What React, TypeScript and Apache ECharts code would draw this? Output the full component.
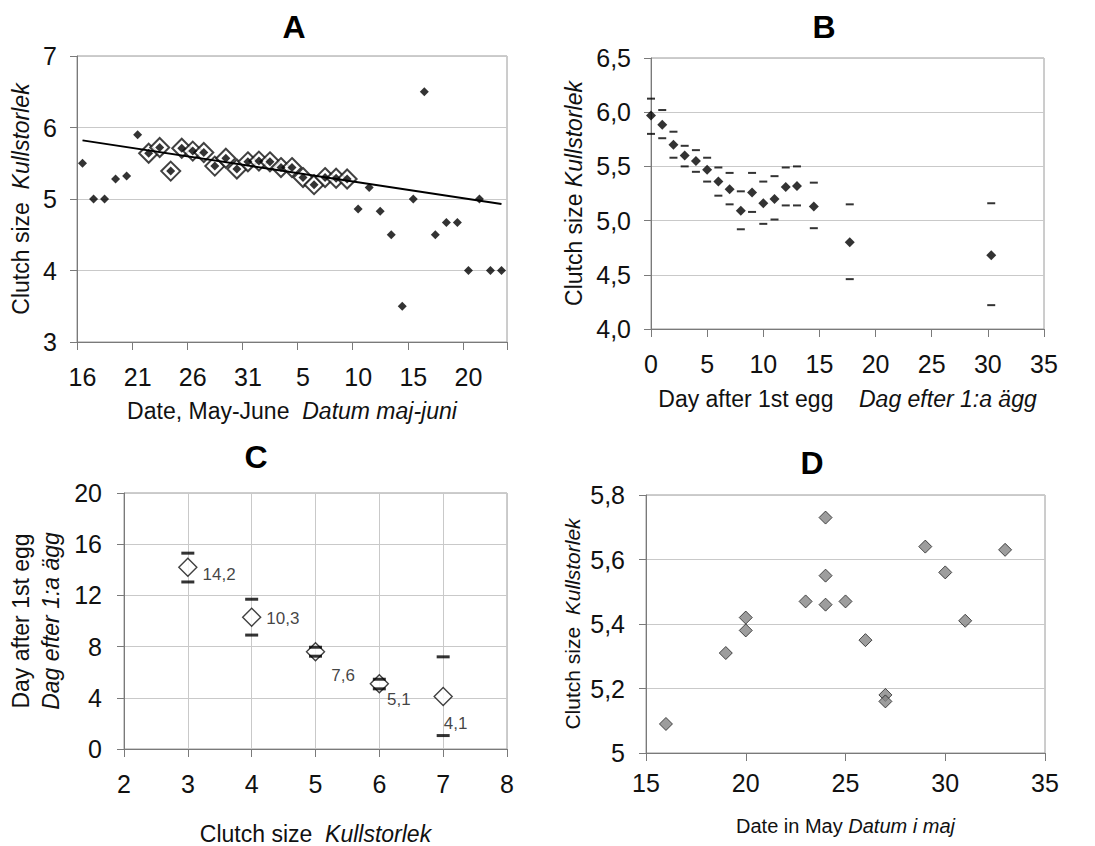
import React, { useEffect, useRef } from "react";
import * as echarts from "echarts";

const FONT = "'Liberation Sans', Arial, Helvetica, sans-serif";

// ---------- Panel A: clutch size by laying date ----------
const aDays = [
  "May 16", "May 17", "May 18", "May 19", "May 20", "May 21", "May 22", "May 23",
  "May 24", "May 25", "May 26", "May 27", "May 28", "May 29", "May 30", "May 31",
  "Jun 1", "Jun 2", "Jun 3", "Jun 4", "Jun 5", "Jun 6", "Jun 7", "Jun 8", "Jun 9",
  "Jun 10", "Jun 11", "Jun 12", "Jun 13", "Jun 14", "Jun 15", "Jun 16", "Jun 17",
  "Jun 18", "Jun 19", "Jun 20", "Jun 21", "Jun 22", "Jun 23",
];
const aClutch = [
  5.5, 5.0, 5.0, 5.28, 5.32, 5.9, 5.64, 5.72, 5.39, 5.71, 5.67, 5.65, 5.46, 5.57, 5.42, 5.52,
  5.53, 5.52, 5.44, 5.44, 5.3, 5.2, 5.3, 5.29, 5.28, 4.86, 5.16, 4.83, 4.5, 3.5, 5.0, 6.5,
  4.5, 4.67, 4.67, 4.0, 5.0, 4.0, 4.0,
];
const aRingedFrom = "May 22";
const aRingedTo = "Jun 9";
const aTrend = [5.82, 4.93]; // regression line value at first and last date
const aYTicks = [3, 7, 1]; // min, max, step

// ---------- Panel B: clutch size by day after first egg ----------
const bDay = [0, 1, 2, 3, 4, 5, 6, 7, 8, 9, 10, 11, 12, 13, 14.5, 17.7, 30.3];
const bMean = [5.97, 5.885, 5.7, 5.6, 5.55, 5.47, 5.36, 5.29, 5.09, 5.26, 5.16, 5.2, 5.31, 5.32, 5.13, 4.8, 4.68];
const bUpper = [6.125, 6.02, 5.82, 5.69, 5.65, 5.58, 5.49, 5.44, 5.27, 5.44, 5.36, 5.41, 5.49, 5.5, 5.35, 5.15, 5.16];
const bLower = [5.8, 5.76, 5.58, 5.5, 5.45, 5.36, 5.23, 5.15, 4.92, 5.08, 4.97, 5.01, 5.14, 5.14, 4.93, 4.46, 4.22];

// ---------- Panel C: day after first egg by clutch size ----------
const cSize = [3, 4, 5, 6, 7];
const cMean = [14.2, 10.3, 7.6, 5.1, 4.1];
const cUpper = [15.3, 11.7, 7.95, 5.45, 7.2];
const cLower = [13.05, 8.9, 7.25, 4.7, 1.05];
const cLabelOffset = [[0, 7], [0, 1], [1, 24], [-7, 16], [-14, 27]];

// ---------- Panel D: mean clutch size by date in May ----------
const dDate = [16, 19, 20, 20, 23, 24, 24, 24, 25, 26, 27, 27, 29, 30, 31, 33];
const dClutch = [5.09, 5.31, 5.42, 5.38, 5.47, 5.73, 5.55, 5.46, 5.47, 5.35, 5.18, 5.16, 5.64, 5.56, 5.41, 5.63];

const comma = (v: number) => String(Number(v.toFixed(2))).replace(".", ",");
const comma1 = (v: number) => v.toFixed(1).replace(".", ",");

const AXIS_COLOR = "#7a7a7a";
const SPLIT_COLOR = "#c9c9c9";
const TXT = "#111";

function nameStyle(size: number) {
  return {
    fontSize: size,
    fontFamily: FONT,
    color: TXT,
    rich: {
      i: { fontSize: size, fontFamily: FONT, fontStyle: "italic", color: TXT },
    },
  };
}

function valueAxis(extra: any) {
  return {
    type: "value",
    axisLine: { show: true, lineStyle: { color: AXIS_COLOR, width: 1 } },
    axisTick: { show: true, length: 7, lineStyle: { color: AXIS_COLOR } },
    splitLine: { show: false, lineStyle: { color: SPLIT_COLOR, width: 1 } },
    axisLabel: { fontSize: 25, fontFamily: FONT, color: TXT, margin: 20 },
    ...extra,
  };
}

function titleText(text: string, x: number, y: number) {
  return {
    type: "text",
    x,
    y,
    style: { text, font: `bold 32px ${FONT}`, fill: "#000", align: "center", verticalAlign: "middle" },
  };
}

export default function App() {
  const ref = useRef<HTMLDivElement>(null);

  useEffect(() => {
    document.body.style.margin = "0";
    if (!ref.current) return;
    const chart = echarts.init(ref.current, null, { renderer: "svg" });

    const iFrom = aDays.indexOf(aRingedFrom);
    const iTo = aDays.indexOf(aRingedTo);
    const ringed = aClutch.map((v, i) => (i >= iFrom && i <= iTo ? v : "-"));

    const option: any = {
      animation: false,
      backgroundColor: "#fff",
      graphic: [
        titleText("A", 294, 27),
        titleText("B", 824, 27),
        titleText("C", 256, 457),
        titleText("D", 812, 463),
      ],
      grid: [
        { left: 77, top: 56, width: 430, height: 286, show: true, borderColor: "#9a9a9a", borderWidth: 1, backgroundColor: "transparent" },
        { left: 651, top: 58, width: 393, height: 271, show: true, borderColor: "#9a9a9a", borderWidth: 1, backgroundColor: "transparent" },
        { left: 124, top: 493, width: 383, height: 268, show: true, borderColor: "#9a9a9a", borderWidth: 1, backgroundColor: "transparent" },
        { left: 646, top: 495, width: 399, height: 258, show: true, borderColor: "#9a9a9a", borderWidth: 1, backgroundColor: "transparent" },
      ],
      xAxis: [
        {
          type: "category",
          gridIndex: 0,
          data: aDays,
          boundaryGap: true,
          axisLine: { show: true, lineStyle: { color: AXIS_COLOR } },
          axisTick: { show: true, interval: 4, length: 8, lineStyle: { color: AXIS_COLOR } },
          axisLabel: {
            interval: 4,
            fontSize: 25,
            fontFamily: FONT,
            color: TXT,
            margin: 22,
            formatter: (v: string) => v.split(" ")[1],
          },
          splitLine: { show: false },
          name: "Date, May-June  {i|Datum maj-juni}",
          nameLocation: "middle",
          nameGap: 57,
          nameTextStyle: nameStyle(23),
        },
        valueAxis({
          gridIndex: 1,
          min: 0,
          max: 35,
          interval: 5,
          axisTick: { show: true, length: 8, lineStyle: { color: AXIS_COLOR } },
          axisLabel: { fontSize: 25, fontFamily: FONT, color: TXT, margin: 22 },
          name: "Day after 1st egg    {i|Dag efter 1:a ägg}",
          nameLocation: "middle",
          nameGap: 58,
          nameTextStyle: nameStyle(23),
        }),
        valueAxis({
          gridIndex: 2,
          min: 2,
          max: 8,
          interval: 1,
          splitLine: { show: true, lineStyle: { color: SPLIT_COLOR } },
          axisTick: { show: true, length: 8, lineStyle: { color: AXIS_COLOR } },
          axisLabel: { fontSize: 25, fontFamily: FONT, color: TXT, margin: 22 },
          name: "Clutch size  {i|Kullstorlek}",
          nameLocation: "middle",
          nameGap: 73,
          nameTextStyle: nameStyle(23),
        }),
        valueAxis({
          gridIndex: 3,
          min: 15,
          max: 35,
          interval: 5,
          axisTick: { show: true, length: 8, lineStyle: { color: AXIS_COLOR } },
          axisLabel: { fontSize: 25, fontFamily: FONT, color: TXT, margin: 17 },
          name: "Date in May {i|Datum i maj}",
          nameLocation: "middle",
          nameGap: 63,
          nameTextStyle: nameStyle(20),
        }),
      ],
      yAxis: [
        valueAxis({
          gridIndex: 0,
          min: aYTicks[0],
          max: aYTicks[1],
          interval: aYTicks[2],
          splitLine: { show: true, lineStyle: { color: SPLIT_COLOR } },
          name: "Clutch size  {i|Kullstorlek}",
          nameLocation: "middle",
          nameRotate: 90,
          nameGap: 45,
          nameTextStyle: nameStyle(23),
        }),
        valueAxis({
          gridIndex: 1,
          min: 4,
          max: 6.5,
          interval: 0.5,
          splitLine: { show: true, lineStyle: { color: SPLIT_COLOR } },
          axisLabel: { fontSize: 25, fontFamily: FONT, color: TXT, margin: 20, formatter: (v: number) => comma1(v) },
          name: "Clutch size {i|Kullstorlek}",
          nameLocation: "middle",
          nameRotate: 90,
          nameGap: 66,
          nameTextStyle: nameStyle(23),
        }),
        valueAxis({
          gridIndex: 2,
          min: 0,
          max: 20,
          interval: 4,
          splitLine: { show: true, lineStyle: { color: SPLIT_COLOR } },
          axisLabel: { fontSize: 25, fontFamily: FONT, color: TXT, margin: 22 },
          name: "Day after 1st egg\n{i|Dag efter 1:a ägg}",
          nameLocation: "middle",
          nameRotate: 90,
          nameGap: 58,
          nameTextStyle: { ...nameStyle(23), lineHeight: 30, rich: { i: { fontSize: 23, fontFamily: FONT, fontStyle: "italic", color: TXT, lineHeight: 30 } } },
        }),
        valueAxis({
          gridIndex: 3,
          min: 5,
          max: 5.8,
          interval: 0.2,
          splitLine: { show: true, lineStyle: { color: SPLIT_COLOR } },
          axisLabel: { fontSize: 25, fontFamily: FONT, color: TXT, margin: 21, formatter: (v: number) => comma(v) },
          name: "Clutch size  {i|Kullstorlek}",
          nameLocation: "middle",
          nameRotate: 90,
          nameGap: 63,
          nameTextStyle: nameStyle(21),
        }),
      ],
      series: [
        // Panel A
        {
          type: "scatter",
          xAxisIndex: 0,
          yAxisIndex: 0,
          symbol: "diamond",
          symbolSize: 19,
          itemStyle: { color: "#fff", borderColor: "#111", borderWidth: 2 },
          data: ringed,
          z: 2,
        },
        {
          type: "scatter",
          xAxisIndex: 0,
          yAxisIndex: 0,
          symbol: "diamond",
          symbolSize: 9,
          itemStyle: { color: "#000" },
          data: aClutch,
          z: 4,
        },
        {
          type: "line",
          xAxisIndex: 0,
          yAxisIndex: 0,
          symbol: "none",
          lineStyle: { color: "#000", width: 2 },
          data: [
            [0, aTrend[0]],
            [aDays.length - 1, aTrend[1]],
          ],
          z: 5,
        },
        // Panel B
        {
          type: "scatter",
          xAxisIndex: 1,
          yAxisIndex: 1,
          symbol: "rect",
          symbolSize: [8, 2],
          itemStyle: { color: "#000" },
          data: bDay.map((d, i) => [d, bUpper[i]]),
        },
        {
          type: "scatter",
          xAxisIndex: 1,
          yAxisIndex: 1,
          symbol: "rect",
          symbolSize: [8, 2],
          itemStyle: { color: "#000" },
          data: bDay.map((d, i) => [d, bLower[i]]),
        },
        {
          type: "scatter",
          xAxisIndex: 1,
          yAxisIndex: 1,
          symbol: "diamond",
          symbolSize: 10,
          itemStyle: { color: "#000" },
          data: bDay.map((d, i) => [d, bMean[i]]),
        },
        // Panel C
        {
          type: "scatter",
          xAxisIndex: 2,
          yAxisIndex: 2,
          symbol: "diamond",
          symbolSize: 18,
          itemStyle: { color: "#fff", borderColor: "#111", borderWidth: 1.4 },
          data: cSize.map((s, i) => ({
            value: [s, cMean[i]],
            label: { offset: cLabelOffset[i] },
          })),
          label: {
            show: true,
            position: "right",
            distance: 5,
            fontSize: 17,
            fontFamily: FONT,
            color: TXT,
            formatter: (p: any) => comma1(p.value[1]),
          },
          z: 3,
        },
        {
          type: "scatter",
          xAxisIndex: 2,
          yAxisIndex: 2,
          symbol: "rect",
          symbolSize: [13, 3],
          itemStyle: { color: "#000" },
          data: cSize.map((s, i) => [s, cUpper[i]]).concat(cSize.map((s, i) => [s, cLower[i]])),
          z: 4,
        },
        // Panel D
        {
          type: "scatter",
          xAxisIndex: 3,
          yAxisIndex: 3,
          symbol: "diamond",
          symbolSize: 13,
          itemStyle: { color: "#858585", borderColor: "#222", borderWidth: 1 },
          data: dDate.map((d, i) => [d, dClutch[i]]),
        },
      ],
    };

    chart.setOption(option);
    return () => chart.dispose();
  }, []);

  return <div ref={ref} style={{ width: 1095, height: 846 }} />;
}
